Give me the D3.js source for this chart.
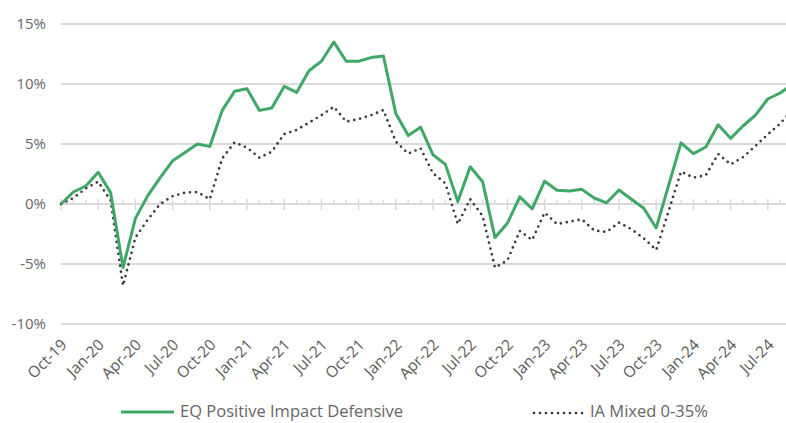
<!DOCTYPE html>
<html>
<head>
<meta charset="utf-8">
<script src="https://cdn.jsdelivr.net/npm/d3@7"></script>
<style>
    body { margin: 0; background: #fff; overflow: hidden; }
    text { font-family: "Open Sans", "Liberation Sans", sans-serif; fill: #666; }
</style>
</head>
<body>
<script>
// monthly cumulative returns, Oct-19 .. Sep-24 (%)
var months = d3.timeMonth.range(new Date(2019, 9, 1), new Date(2024, 9, 1)).map(d3.timeFormat("%b-%y"));

var eqValues = [0, 1.0, 1.5, 2.64, 0.95, -5.3, -1.2, 0.7, 2.2, 3.6,
    4.3, 5.0, 4.8, 7.8, 9.4, 9.6, 7.8, 8.0, 9.8, 9.3,
    11.1, 11.9, 13.5, 11.9, 11.9, 12.2, 12.33, 7.55, 5.7, 6.4,
    4.1, 3.3, 0.2, 3.1, 1.86, -2.8, -1.6, 0.6, -0.4, 1.9,
    1.14, 1.08, 1.22, 0.5, 0.1, 1.17, 0.4, -0.36, -2.0, 1.55,
    5.1, 4.2, 4.75, 6.6, 5.47, 6.5, 7.4, 8.75, 9.25, 10.0];

var iaValues = [0, 0.5, 1.3, 1.86, 0.3, -6.8, -2.8, -1.3, 0.0, 0.65,
    0.95, 1.0, 0.4, 3.8, 5.14, 4.7, 3.86, 4.36, 5.83, 6.17,
    6.78, 7.4, 8.1, 6.86, 7.08, 7.4, 7.83, 5.2, 4.2, 4.64,
    2.56, 1.72, -1.67, 0.4, -1.0, -5.3, -4.7, -2.25, -3.0, -0.72,
    -1.67, -1.47, -1.28, -2.2, -2.33, -1.55, -2.1, -2.86, -3.83, -0.6,
    2.7, 2.2, 2.4, 4.17, 3.3, 3.9, 4.83, 5.8, 6.7, 7.9];

var yTicks = [-10, -5, 0, 5, 10, 15];
var xTickLabels = ["Oct-19", "Jan-20", "Apr-20", "Jul-20", "Oct-20", "Jan-21", "Apr-21", "Jul-21",
    "Oct-21", "Jan-22", "Apr-22", "Jul-22", "Oct-22", "Jan-23", "Apr-23", "Jul-23",
    "Oct-23", "Jan-24", "Apr-24", "Jul-24"];

var seriesNames = ["EQ Positive Impact Defensive", "IA Mixed 0-35%"];

var w = 786,
    h = 423;

var green = "#3fa866",
    dark = "#3a3a3a",
    grid = "#dadada";

var x = d3.scalePoint()
    .domain(months)
    .range([61, 61 + 59 * 12.4]);

var y = d3.scaleLinear()
    .domain([-10, 15])
    .range([324, 24]);

var svg = d3.select("body").append("svg")
    .attr("width", w)
    .attr("height", h);

// gridlines
svg.selectAll("line.grid")
    .data(yTicks)
    .enter().append("line")
    .attr("class", "grid")
    .attr("x1", 61)
    .attr("x2", w)
    .attr("y1", function (d) { return y(d); })
    .attr("y2", function (d) { return y(d); })
    .attr("stroke", grid)
    .attr("stroke-width", 2);

// y labels
svg.selectAll("text.ylab")
    .data(yTicks)
    .enter().append("text")
    .attr("class", "ylab")
    .attr("x", 46)
    .attr("y", function (d) { return y(d); })
    .attr("dy", "0.35em")
    .attr("text-anchor", "end")
    .style("font-size", "15px")
    .text(function (d) { return d + "%"; });

// month ticks on the zero line
svg.selectAll("line.tick")
    .data(months)
    .enter().append("line")
    .attr("class", "tick")
    .attr("x1", function (d) { return x(d); })
    .attr("x2", function (d) { return x(d); })
    .attr("y1", function (d) { return xTickLabels.indexOf(d) >= 0 ? y(0) - 5 : y(0) - 4; })
    .attr("y2", function (d) { return xTickLabels.indexOf(d) >= 0 ? y(0) + 6 : y(0); })
    .attr("stroke", grid)
    .attr("stroke-width", 1.5);

// x labels
svg.selectAll("text.xlab")
    .data(xTickLabels)
    .enter().append("text")
    .attr("class", "xlab")
    .attr("transform", function (d) { return "translate(" + (x(d) + 3) + ",342)rotate(-45)"; })
    .attr("dy", "0.35em")
    .attr("text-anchor", "end")
    .style("font-size", "15.5px")
    .style("fill", "#5c5c5c")
    .text(function (d) { return d; });

var line = d3.line()
    .x(function (d, i) { return x(months[i]); })
    .y(function (d) { return y(d); });

svg.append("path")
    .datum(iaValues)
    .attr("d", line)
    .attr("fill", "none")
    .attr("stroke", dark)
    .attr("stroke-width", 2.7)
    .attr("stroke-linecap", "round")
    .attr("stroke-dasharray", "0,6");

svg.append("path")
    .datum(eqValues)
    .attr("d", line)
    .attr("fill", "none")
    .attr("stroke", green)
    .attr("stroke-width", 3)
    .attr("stroke-linejoin", "round");

// legend
var legend = svg.append("g");

legend.append("line")
    .attr("x1", 121).attr("x2", 174)
    .attr("y1", 412).attr("y2", 412)
    .attr("stroke", green)
    .attr("stroke-width", 3);

legend.append("text")
    .attr("x", 180)
    .attr("y", 417)
    .style("font-size", "16.5px")
    .text(seriesNames[0]);

legend.append("line")
    .attr("x1", 534).attr("x2", 584)
    .attr("y1", 413).attr("y2", 413)
    .attr("stroke", dark)
    .attr("stroke-width", 2.7)
    .attr("stroke-linecap", "round")
    .attr("stroke-dasharray", "0,6");

legend.append("text")
    .attr("x", 590)
    .attr("y", 417)
    .style("font-size", "16.5px")
    .text(seriesNames[1]);
</script>
</body>
</html>
